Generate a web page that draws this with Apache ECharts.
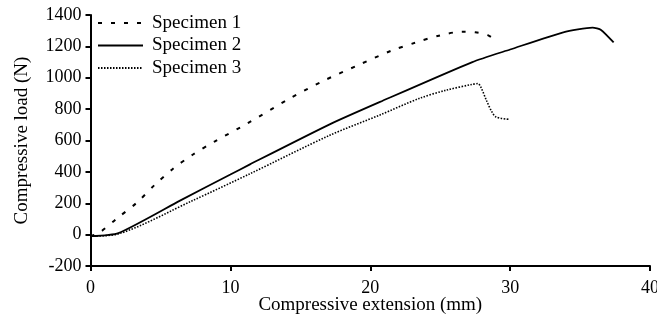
<!DOCTYPE html>
<html><head><meta charset="utf-8">
<script src="https://cdn.jsdelivr.net/npm/echarts@6/dist/echarts.min.js"></script>
<style>html,body{margin:0;padding:0;background:#fff}#c{width:657px;height:320px}</style>
</head><body><div id="c"></div>
<script>
const seriesNames = ['Specimen 1', 'Specimen 2', 'Specimen 3'];
const xTicks = [0, 10, 20, 30, 40];
const yTicks = [-200, 0, 200, 400, 600, 800, 1000, 1200, 1400];
// [extension (mm), load (N)]
const specimen1 = [[0,-10],[0.6,10],[1.9,104],[3.3,203],[4.6,318],[5.9,420],[7.3,509],[8.9,595],[11.2,708],[14.25,868],[16.6,978],[19.1,1079],[21.5,1172],[23.2,1223],[24.9,1268],[26.6,1294],[27.5,1290],[28.4,1272],[29.1,1230]];
const specimen2 = [[0,-10],[2,10],[6.4,217],[10,383],[11.4,448],[17.1,703],[20.7,846],[27.3,1100],[30,1180],[33.8,1290],[35.9,1320],[36.5,1305],[37.4,1225]];
const specimen3 = [[0,-10],[2,5],[7.3,217],[11.4,388],[17.1,633],[20.7,763],[23.5,868],[25.4,920],[27.3,958],[27.7,963],[27.9,942],[28.3,857],[28.7,782],[29,750],[29.9,735]];

const font = 'Liberation Serif';
const chart = echarts.init(document.getElementById('c'), null, {renderer: 'canvas'});
const axisCommon = {
  axisLine: {show: true, onZero: false, lineStyle: {color: '#000', width: 2}},
  axisTick: {show: true, inside: false, length: 5, lineStyle: {color: '#000', width: 2}},
  splitLine: {show: false},
  nameMoveOverlap: false,
  nameTextStyle: {fontFamily: font, fontSize: 19, color: '#000'},
  axisLabel: {fontFamily: font, fontSize: 18, color: '#000', formatter: v => String(v)}
};
chart.setOption({
  animation: false,
  grid: {left: 90.5, right: 7, top: 15, bottom: 54, containLabel: false, outerBoundsMode: 'none'},
  legend: {
    orient: 'vertical', left: 97, top: 13.5, padding: 0,
    itemWidth: 45, itemHeight: 14, itemGap: 3.5,
    itemStyle: {opacity: 0},
    textStyle: {fontFamily: font, fontSize: 19, lineHeight: 19, color: '#000', padding: [0,0,0,4]},
    data: seriesNames
  },
  xAxis: Object.assign({}, axisCommon, {
    type: 'value', min: xTicks[0], max: xTicks[xTicks.length-1], interval: 10,
    name: 'Compressive extension (mm)', nameLocation: 'middle', nameGap: 30,
    axisLabel: Object.assign({}, axisCommon.axisLabel, {margin: 13, showMaxLabel: true})
  }),
  yAxis: Object.assign({}, axisCommon, {
    type: 'value', min: yTicks[0], max: yTicks[yTicks.length-1], interval: 200,
    name: 'Compressive load (N)', nameLocation: 'middle', nameGap: 59,
    axisLabel: Object.assign({}, axisCommon.axisLabel, {margin: 9})
  }),
  series: [
    {name: seriesNames[0], type: 'line', data: specimen1, symbol: 'none', smooth: 0.3,
     lineStyle: {color: '#000', width: 2, type: [4, 9]}, itemStyle: {color: '#000'}},
    {name: seriesNames[1], type: 'line', data: specimen2, symbol: 'none', smooth: 0.2,
     lineStyle: {color: '#000', width: 1.8, type: 'solid'}, itemStyle: {color: '#000'}},
    {name: seriesNames[2], type: 'line', data: specimen3, symbol: 'none', smooth: 0.3,
     lineStyle: {color: '#000', width: 1.6, type: [1.5, 1.5]}, itemStyle: {color: '#000'}}
  ]
});
</script></body></html>
